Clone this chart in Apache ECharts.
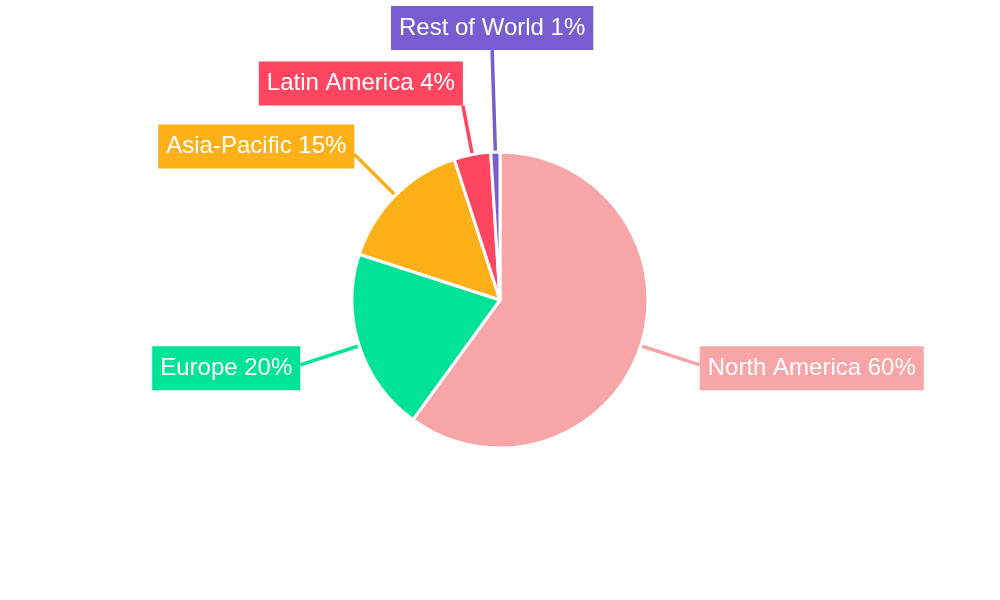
<!DOCTYPE html>
<html>
<head>
<meta charset="utf-8">
<script src="https://cdn.jsdelivr.net/npm/echarts@6/dist/echarts.min.js"></script>
<style>html,body{margin:0;padding:0;background:#fff}#c{width:1000px;height:600px}</style>
</head>
<body>
<div id="c"></div>
<script>
const categories = ['North America', 'Europe', 'Asia-Pacific', 'Latin America', 'Rest of World'];
const shares = [60, 20, 15, 4, 1];
const colors = ['#F8A5A7', '#00E396', '#FEB019', '#FF4560', '#775DD0'];
const lineLengths = [62, 62, 58, 50, 102];

const chart = echarts.init(document.getElementById('c'));
chart.setOption({
  animation: false,
  series: [{
    type: 'pie',
    center: [500, 300],
    radius: 148,
    startAngle: 90,
    clockwise: true,
    avoidLabelOverlap: false,
    minShowLabelAngle: 0,
    itemStyle: { borderColor: '#fff', borderWidth: 3 },
    label: {
      show: true,
      position: 'outside',
      formatter: '{b} {c}%',
      color: '#fff',
      fontFamily: 'Liberation Sans, Arial, sans-serif',
      fontSize: 24,
      lineHeight: 28,
      padding: [8, 8, 8, 8]
    },
    labelLine: { show: true, length2: 0, smooth: false, lineStyle: { width: 3.5 } },
    labelLayout: function (p) {
      const pts = p.labelLinePoints;
      if (!pts || pts.length < 2) return {};
      const s = pts[0], e = pts[pts.length - 1];
      const dx = e[0] - s[0], dy = e[1] - s[1];
      const len = Math.sqrt(dx * dx + dy * dy) || 1;
      const h = p.labelRect ? p.labelRect.height : 44;
      let align, valign, y = e[1];
      if (dy / len < -0.75) {
        valign = 'bottom';
        align = Math.abs(dx / len) < 0.1 ? 'center' : (dx > 0 ? 'left' : 'right');
      } else {
        valign = 'middle';
        align = dx > 0 ? 'left' : 'right';
        y = e[1] + (dy / len) * h / 4;
      }
      return { x: e[0], y: y, align: align, verticalAlign: valign, labelLinePoints: pts };
    },
    data: categories.map((n, i) => ({
      name: n,
      value: shares[i],
      itemStyle: { color: colors[i] },
      label: { backgroundColor: colors[i] },
      labelLine: { length: lineLengths[i], lineStyle: { color: colors[i] } }
    }))
  }]
});
</script>
</body>
</html>
